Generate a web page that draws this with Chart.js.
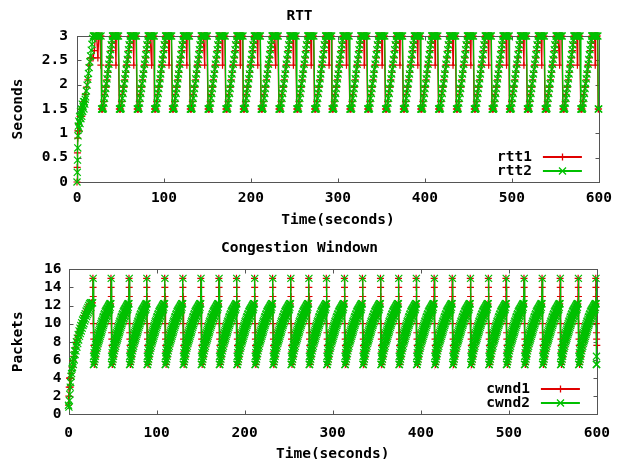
<!DOCTYPE html>
<html>
<head>
<meta charset="utf-8">
<script src="https://cdn.jsdelivr.net/npm/chart.js@4.4.0/dist/chart.umd.min.js"></script>
<style>
  body { margin: 0; background: #fff; }
  #wrap { position: relative; width: 620px; height: 459px; }
  canvas { position: absolute; left: 0; }
  #rtt { top: 0; }
  #cwnd { top: 230px; }
</style>
</head>
<body>
<div id="wrap">
  <canvas id="rtt" width="620" height="230"></canvas>
  <canvas id="cwnd" width="620" height="229"></canvas>
</div>
<script>
// ---- data ------------------------------------------------------------
const timeLabels = ["0", "100", "200", "300", "400", "500", "600"];
const rttLabels = ["0", "0.5", "1", "1.5", "2", "2.5", "3"];
const cwndLabels = ["0", "2", "4", "6", "8", "10", "12", "14", "16"];

// moments of loss (seconds): each one starts a new sawtooth period
const lossTimes = [28, 48.5, 69, 89, 109.5, 130, 150.5, 171, 191, 211.5, 232, 252.5, 273, 293,
  313.5, 334, 354.5, 375, 395, 415.5, 436, 456.5, 477, 497, 517.5, 538, 558.5, 579, 599];

// [time, value] during slow start
const rtt1Start = [[0,0],[0.2,0.3],[0.5,0.6],[0.8,0.9],[1,1.05],[1.5,1.2],[2.5,1.05],[3.5,1.35],[4.5,1.5],
  [5.5,1.35],[6.5,1.5],[8,1.65],[9.5,1.8],[11,1.95],[12.5,2.1],[14,2.4],[15.5,2.55],[17,2.55],[18.5,2.55],
  [20,2.7],[21,3],[22.5,3],[24,2.55],[25,3],[26.5,3],[27.4,2.4],[27.7,3]];
const rtt2Start = [[0,0],[0.3,0.2],[0.6,0.45],[0.9,0.7],[1.2,0.95],[1.5,1.15],[2,1.25],[2.5,1.1],[3,1.35],
  [3.5,1.2],[4,1.45],[4.5,1.3],[5,1.5],[5.5,1.35],[6,1.6],[6.5,1.45],[7,1.55],[7.5,1.65],[8,1.5],[8.5,1.65],
  [9,1.6],[9.5,1.7],[10,1.75],[10.8,1.87],[11.6,1.99],[12.4,2.11],[13.2,2.23],[14,2.35],[14.8,2.47],
  [15.6,2.59],[16.4,2.71],[17.2,2.83],[18,2.95],[18.8,3],[19.6,3],[20.4,3],[21.2,3],[22,3],[23,3],
  [24.5,3],[26,3],[27.6,3]];

// [seconds after a loss, value] for one period
const rtt1Cycle = [[0.1,1.5],[0.6,1.5],[1.1,1.5],[1.7,1.5],[2.6,1.65],[3.6,1.8],[4.6,1.95],[5.4,1.95],
  [6.4,2.1],[7.4,2.25],[8.4,2.4],[9.2,2.4],[10.2,2.55],[11.2,2.7],[12.2,2.85],[13,3],[14,3],[15,3],
  [16,3],[16.8,2.4],[17.2,3],[18.2,3],[19.4,3]];
const rtt2Cycle = [[0.3,1.5],[0.8,1.5],[1.3,1.5],[1.8,1.5],[2.3,1.52],[3,1.62],[3.7,1.72],[4.4,1.82],
  [5.1,1.92],[5.8,2.02],[6.5,2.12],[7.2,2.22],[7.9,2.32],[8.6,2.42],[9.3,2.52],[10,2.62],[10.7,2.72],
  [11.4,2.82],[12.1,2.92],[12.8,3],[13.4,3],[14,3],[14.6,3],[15.2,3],[15.8,3],[16.4,3],[17.2,3],
  [18.5,3],[19.8,3]];

const cwnd1Start = [[0,1],[0.4,2],[0.8,3],[1.2,4],[1.6,4],[2,3],[2.5,4],[3,4.5],[4,5.2],[5,5.9],[6,6.4],
  [7,6.9],[8,7.4],[9,7.9],[10,8.3],[11,8.7],[12,9.1],[13,9.4],[14,9.7],[15,10],[16,10.3],[17,10.6],
  [18,10.9],[19,11.1],[20,11.3],[21,11.5],[22,11.7],[23,11.9],[24,12.1],[25,12.2],[26,12.3],[27.2,12.3]];
const cwnd2Start = [[0,1],[0.5,0.8],[1,1.5],[1.5,2.2],[2,3],[2.5,3.5],[3,4.2],[3.5,4.5],[4,5],[4.5,5.2],
  [5,5.8],[5.5,5.5],[6,6.5],[6.5,6],[7,7],[7.5,6.6],[8,7.6],[8.5,7],[9,8],[9.5,7.4],[10,8.4],
  [10.5,7.8],[11,8.8],[11.5,8.2],[12,9.2],[12.5,8.6],[13,9.5],[13.5,8.9],[14,9.8],[14.5,9.2],[15,10.1],
  [15.5,9.5],[16,10.4],[16.5,9.8],[17,10.6],[17.5,10],[18,10.9],[18.5,10.3],[19,11.1],[19.5,10.5],
  [20,11.4],[20.5,10.8],[21,11.6],[21.5,11],[22,11.8],[22.5,11.2],[23,12],[23.5,11.4],[24,12.2],
  [24.5,11.6],[25,12.3],[25.5,11.8],[26,12.2],[26.6,12.3],[27.4,12.3]];

const cwnd1Cycle = [[-0.3,15],[-0.1,14],[0.1,13],[0.3,10],[0.5,9],[0.7,8.3],[0.9,7.6],[1.1,6.9],[1.3,5.5],
  [1.8,5.8],[2.5,6.3],[3.5,6.9],[4.5,7.4],[5.5,7.9],[6.5,8.3],[7.5,8.7],[8.5,9.1],[9.5,9.4],[10.5,9.7],
  [11.5,10],[12.5,10.3],[13.5,10.6],[14.5,10.8],[15.5,11.1],[16.5,11.3],[17.5,11.5],[18.5,11.8],
  [19.5,12],[19.9,12.2]];
const cwnd2Cycle = [[0,15],[0.3,5.5],[0.5,6.4],[0.8,5.5],[1.1,6.8],[1.4,5.8],[1.7,7.1],[2,6.1],[2.3,7.4],
  [2.6,6.4],[2.9,7.7],[3.2,6.7],[3.5,8],[3.8,7],[4.1,8.3],[4.4,7.3],[4.7,8.5],[5,7.5],[5.3,8.8],[5.6,7.8],
  [5.9,9],[6.2,8],[6.5,9.2],[6.8,8.2],[7.1,9.4],[7.4,8.4],[7.7,9.6],[8,8.6],[8.3,9.8],[8.6,8.8],
  [8.9,10],[9.2,9],[9.5,10.2],[9.8,9.2],[10.1,10.3],[10.4,9.4],[10.7,10.5],[11,9.6],[11.3,10.7],
  [11.6,9.8],[11.9,10.8],[12.2,10],[12.5,11],[12.8,10.2],[13.1,11.1],[13.4,10.3],[13.7,11.3],[14,10.5],
  [14.3,11.4],[14.6,10.6],[14.9,11.5],[15.2,10.8],[15.5,11.6],[15.8,10.9],[16.1,11.7],[16.4,11.1],
  [16.7,11.8],[17,11.2],[17.3,11.9],[17.6,11.3],[17.9,12],[18.2,11.5],[18.5,12.1],[18.8,11.6],
  [19.1,12.2],[19.4,11.8],[19.7,12.2],[20.1,12.2]];

const RED = "#e00000";
const GREEN = "#00c000";
const FONT = '"DejaVu Sans Mono", monospace';
const FONT_SIZE = 14.5;

// slow start followed by one period after every loss
function buildSeries(start, cycle) {
  const pts = start.map(([t, v]) => ({ x: t, y: v }));
  lossTimes.forEach((loss) => {
    cycle.forEach(([dt, v]) => {
      const t = loss + dt;
      if (t <= 600) pts.push({ x: t, y: v });
    });
  });
  return pts;
}

function series(label, color, marker, radius, order, data) {
  return {
    label, data, order,
    borderColor: color, backgroundColor: color,
    borderWidth: 1.3, pointStyle: marker, pointRadius: radius,
    pointBorderWidth: 1.2, pointBorderColor: color,
    tension: 0, clip: false,
  };
}

// gnuplot style box with inward ticks on all four sides
const framePlugin = {
  id: "frame",
  beforeDatasetsDraw(chart) {
    const { ctx, chartArea: a, scales } = chart;
    const L = Math.round(a.left) + 0.5, R = Math.round(a.right) + 0.5;
    const T = Math.round(a.top) + 0.5, B = Math.round(a.bottom) + 0.5;
    ctx.save();
    ctx.strokeStyle = "#555";
    ctx.lineWidth = 1;
    ctx.strokeRect(L, T, R - L, B - T);
    ctx.beginPath();
    scales.x.ticks.forEach((t) => {
      const px = Math.round(scales.x.getPixelForValue(t.value)) + 0.5;
      ctx.moveTo(px, B); ctx.lineTo(px, B - 4);
      ctx.moveTo(px, T); ctx.lineTo(px, T + 4);
    });
    scales.y.ticks.forEach((t) => {
      const py = Math.round(scales.y.getPixelForValue(t.value)) + 0.5;
      ctx.moveTo(L, py); ctx.lineTo(L + 4, py);
      ctx.moveTo(R, py); ctx.lineTo(R - 4, py);
    });
    ctx.stroke();
    ctx.restore();
  },
};

// key in the lower right corner: label, then line sample with marker
const keyPlugin = {
  id: "key",
  afterDatasetsDraw(chart) {
    const { ctx, chartArea: a } = chart;
    ctx.save();
    ctx.font = "bold " + FONT_SIZE + "px " + FONT;
    ctx.textAlign = "right";
    ctx.textBaseline = "middle";
    chart.data.datasets.forEach((ds, i) => {
      const y = Math.round(a.bottom - 25.5 + i * 14.5);
      const color = i === 0 ? RED : GREEN;
      ctx.fillStyle = "#000";
      ctx.fillText(ds.label, a.right - 67, y);
      ctx.strokeStyle = color;
      ctx.lineWidth = 2;
      ctx.beginPath();
      ctx.moveTo(a.right - 56, y); ctx.lineTo(a.right - 17, y);
      ctx.stroke();
      ctx.lineWidth = 1.3;
      ctx.beginPath();
      const mx = Math.round(a.right - 37) + 0.5;
      if (i === 0) {
        ctx.moveTo(mx, y - 3.5); ctx.lineTo(mx, y + 3.5);
      } else {
        ctx.moveTo(mx - 3.5, y - 3.5); ctx.lineTo(mx + 3.5, y + 3.5);
        ctx.moveTo(mx + 3.5, y - 3.5); ctx.lineTo(mx - 3.5, y + 3.5);
      }
      ctx.stroke();
    });
    ctx.restore();
  },
};

Chart.defaults.font.family = FONT;
Chart.defaults.font.size = FONT_SIZE;
Chart.defaults.font.weight = "bold";
Chart.defaults.color = "#000";

function makePlot(canvasId, cfg) {
  return new Chart(document.getElementById(canvasId), {
    type: "line",
    data: { datasets: cfg.datasets },
    plugins: [framePlugin, keyPlugin],
    options: {
      responsive: false,
      animation: false,
      events: [],
      devicePixelRatio: 1,
      layout: { padding: { left: 0, right: 21, top: 0, bottom: 0 } },
      plugins: {
        legend: { display: false },
        tooltip: { enabled: false },
        title: {
          display: true, text: cfg.title,
          font: { size: FONT_SIZE, weight: "bold", lineHeight: 1.2 },
          padding: cfg.titlePad,
        },
      },
      scales: {
        x: {
          type: "linear", min: 0, max: 600,
          grid: { display: false, drawTicks: false },
          border: { display: false },
          ticks: { stepSize: 100, padding: cfg.xLabelPad, maxRotation: 0, autoSkip: false,
            callback: (v, i) => timeLabels[i] },
          title: {
            display: true, text: "Time(seconds)",
            font: { size: FONT_SIZE, weight: "bold", lineHeight: 1 },
            padding: { top: 0, bottom: cfg.xTitlePad },
          },
          afterFit: (s) => { s.height = cfg.xHeight; },
        },
        y: {
          min: 0, max: cfg.yMax,
          grid: { display: false, drawTicks: false },
          border: { display: false },
          ticks: { stepSize: cfg.yStep, padding: cfg.yLabelPad, autoSkip: false,
            callback: (v, i) => cfg.yLabels[i] },
          title: {
            display: true, text: cfg.yTitle,
            font: { size: FONT_SIZE, weight: "bold", lineHeight: 1 },
            padding: { top: 10.5, bottom: 0 },
          },
          afterFit: (s) => { s.width = cfg.yWidth; },
        },
      },
    },
  });
}

makePlot("rtt", {
  title: "RTT",
  titlePad: { top: 7.6, bottom: 11 },
  datasets: [
    series("rtt1", RED, "cross", 3.5, 2, buildSeries(rtt1Start, rtt1Cycle)),
    series("rtt2", GREEN, "crossRot", 5, 1, buildSeries(rtt2Start, rtt2Cycle)),
  ],
  yTitle: "Seconds", yMax: 3, yStep: 0.5, yLabels: rttLabels, yLabelPad: 9,
  yWidth: 77, xHeight: 48, xLabelPad: 8, xTitlePad: 2.5,
  // chart area: 77..599 x 36..182
});

makePlot("cwnd", {
  title: "Congestion Windown",
  titlePad: { top: 10, bottom: 11.9 },
  datasets: [
    series("cwnd1", RED, "cross", 3.5, 2, buildSeries(cwnd1Start, cwnd1Cycle)),
    series("cwnd2", GREEN, "crossRot", 5, 1, buildSeries(cwnd2Start, cwnd2Cycle)),
  ],
  yTitle: "Packets", yMax: 16, yStep: 2, yLabels: cwndLabels, yLabelPad: 7,
  yWidth: 68.5, xHeight: 44.7, xLabelPad: 10, xTitlePad: -2,
});
</script>
</body>
</html>
